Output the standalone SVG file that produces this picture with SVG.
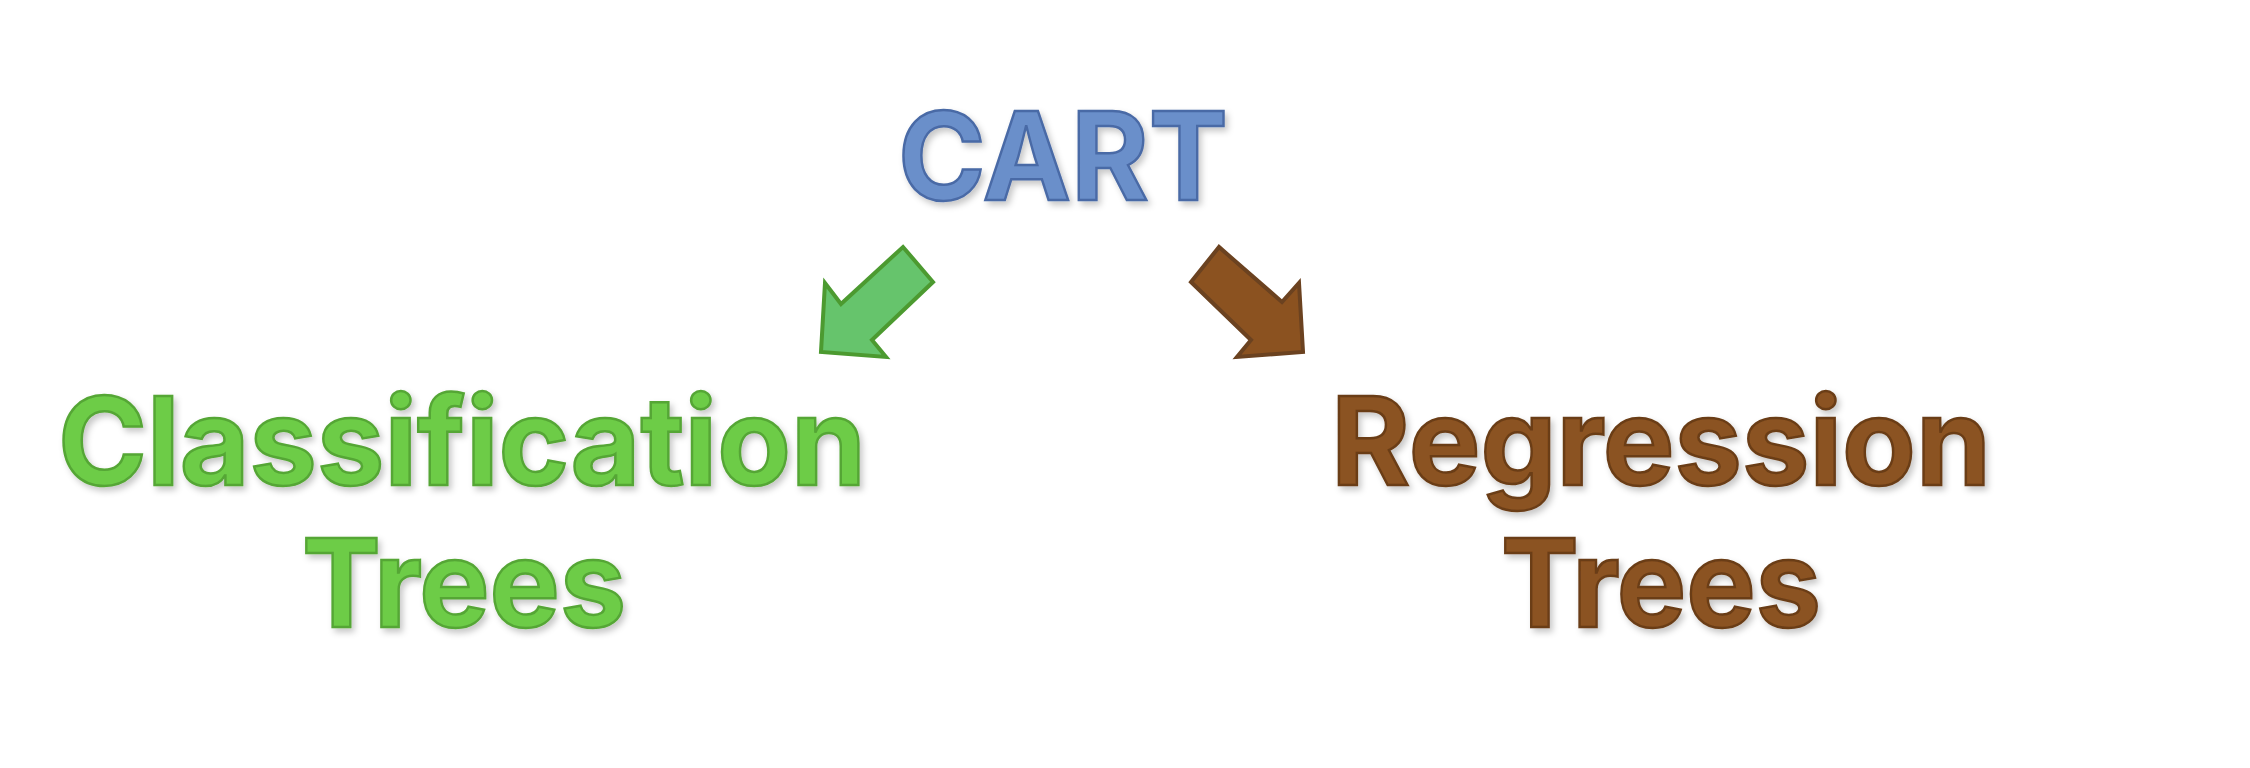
<svg xmlns="http://www.w3.org/2000/svg" width="2250" height="768" viewBox="0 0 2250 768">
<defs>
<filter id="sh" x="-10%" y="-10%" width="120%" height="130%">
<feDropShadow dx="3" dy="4" stdDeviation="3" flood-color="#000" flood-opacity="0.22"/>
</filter>
</defs>
<style>
.t{font-family:Inter,"Noto Sans","Liberation Sans",sans-serif;font-weight:700;font-size:122px;text-anchor:middle;stroke-width:2.5;filter:url(#sh)}
.blue{fill:#6b8fca;stroke:#4a6aa6}
.green{fill:#6dcc47;stroke:#55a636}
.brown{fill:#8b5220;stroke:#6a3d18}
</style>
<rect width="2250" height="768" fill="#ffffff"/>
<g id="cart"><text class="t blue" x="1063" y="200" textLength="330" lengthAdjust="spacingAndGlyphs">CART</text></g>
<g id="classification"><text class="t green" x="462" y="485" textLength="808" lengthAdjust="spacingAndGlyphs">Classification</text><text class="t green" x="464" y="627" textLength="324" lengthAdjust="spacingAndGlyphs">Trees</text></g>
<g id="regression"><text class="t brown" x="1661" y="485" textLength="660" lengthAdjust="spacingAndGlyphs">Regression</text><text class="t brown" x="1661" y="627" textLength="320" lengthAdjust="spacingAndGlyphs">Trees</text></g>
<g id="connectors">
<polygon points="903,247 933,282 872,340 886,357 821,352 825,283 841,304" fill="#66c46c" stroke="#4c9a30" stroke-width="4" stroke-linejoin="miter"/>
<polygon points="1219,247 1191,282 1251,340 1237,357 1303,352 1299,283 1282,302" fill="#8b5220" stroke="#6b4220" stroke-width="4" stroke-linejoin="miter"/>
</g>
</svg>
